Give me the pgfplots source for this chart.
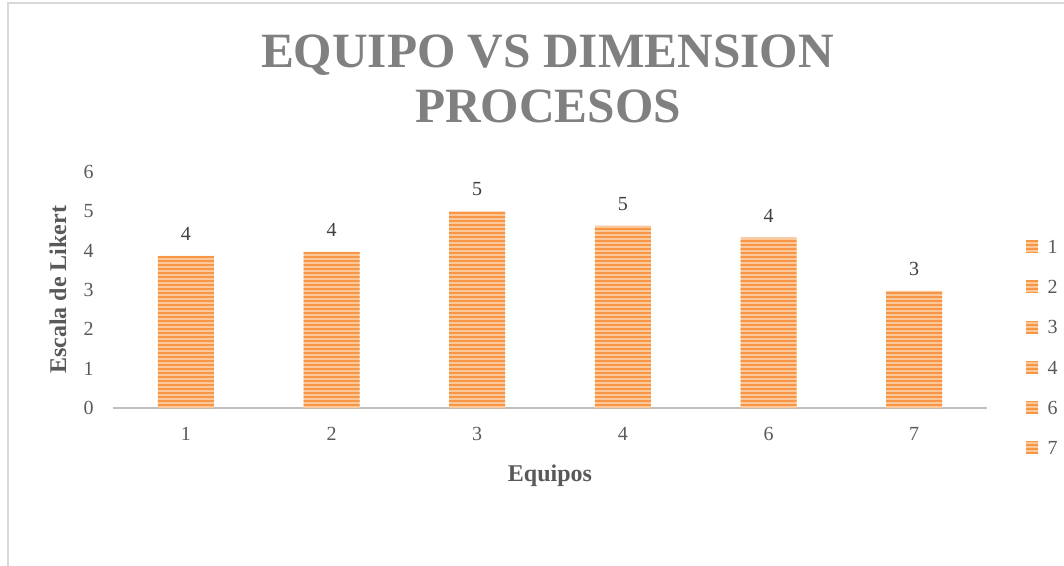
\documentclass[border=0pt]{standalone}
\usepackage{fontspec}
\setmainfont{Liberation Serif}
\usepackage{pgfplots}
\pgfplotsset{compat=1.18}
\usetikzlibrary{patterns.meta}
\definecolor{barorange}{HTML}{F79646}
\definecolor{barlight}{HTML}{FBC89A}
\definecolor{titlegray}{HTML}{808080}
\definecolor{labgray}{HTML}{595959}
\definecolor{numgray}{HTML}{404040}
\definecolor{axgray}{HTML}{BFBFBF}
\definecolor{framegray}{HTML}{D9D9D9}
\tikzset{mybar/.style={draw=none, fill=barlight, postaction={pattern={Lines[angle=0,distance=3pt,line width=1.5pt]}, pattern color=barorange}}}
\begin{document}
\begin{tikzpicture}
\begin{axis}[
  scale only axis, width=655.5pt, height=177pt,
  xmin=-0.5, xmax=5.5, ymin=0, ymax=6,
  xtick={0,...,5}, xticklabels={1,2,3,4,6,7},
  ytick={0,...,6},
  axis lines*=left,
  x axis line style={draw=axgray, line width=1.5pt},
  y axis line style={draw=none},
  major tick length=0pt,
  tick label style={font=\fontsize{15}{17}\selectfont, text=labgray},
  xticklabel style={yshift=-11pt},
  yticklabel style={xshift=-11pt},
  /pgf/number format/assume math mode=true,
  xlabel={Equipos}, ylabel={Escala de Likert},
  label style={font=\fontsize{18}{21}\selectfont\bfseries, text=labgray},
  xlabel style={at={(axis description cs:0.5,-0.288)}, anchor=center},
  ylabel style={at={(axis description cs:-0.063,0.5)}, anchor=center},
  legend style={at={(axis description cs:1.040,0.735)}, anchor=north west, draw=none, fill=none,
    font=\fontsize{15}{17}\selectfont, text=labgray, row sep=14.8pt,
    /tikz/every odd column/.style={column sep=5pt}},
  legend image code/.code={\fill[#1] (0pt,-3.5pt) rectangle (9pt,5.5pt);},
  enlargelimits=false, clip=false
]
\addplot[ybar, bar width=42pt, mybar, forget plot,
  nodes near coords={\pgfmathprintnumber[fixed,precision=0]{\pgfplotspointmeta}},
  nodes near coords style={font=\fontsize{15}{17}\selectfont, text=numgray, yshift=8pt}]
  coordinates {(0,3.87) (1,3.97) (2,5.0) (3,4.63) (4,4.33) (5,2.98)};
\addlegendimage{mybar}\addlegendentry{1}
\addlegendimage{mybar}\addlegendentry{2}
\addlegendimage{mybar}\addlegendentry{3}
\addlegendimage{mybar}\addlegendentry{4}
\addlegendimage{mybar}\addlegendentry{6}
\addlegendimage{mybar}\addlegendentry{7}
\coordinate (O) at (rel axis cs:0,0);
\end{axis}
\pgfresetboundingbox
\begin{scope}[shift={(O)}, x=1pt, y=1pt]
\path[use as bounding box] (-84.75,-117.75) rectangle (713.25,306);
\draw[framegray, line width=1.2pt] (-78.75,-130) -- (-78.75,303.75) -- (720,303.75);
\node[font=\fontsize{37}{40}\selectfont\bfseries, text=titlegray, anchor=base] at (325.85,255) {EQUIPO VS DIMENSION};
\node[font=\fontsize{37}{40}\selectfont\bfseries, text=titlegray, anchor=base] at (326.25,214.5) {PROCESOS};
\end{scope}
\end{tikzpicture}
\end{document}
